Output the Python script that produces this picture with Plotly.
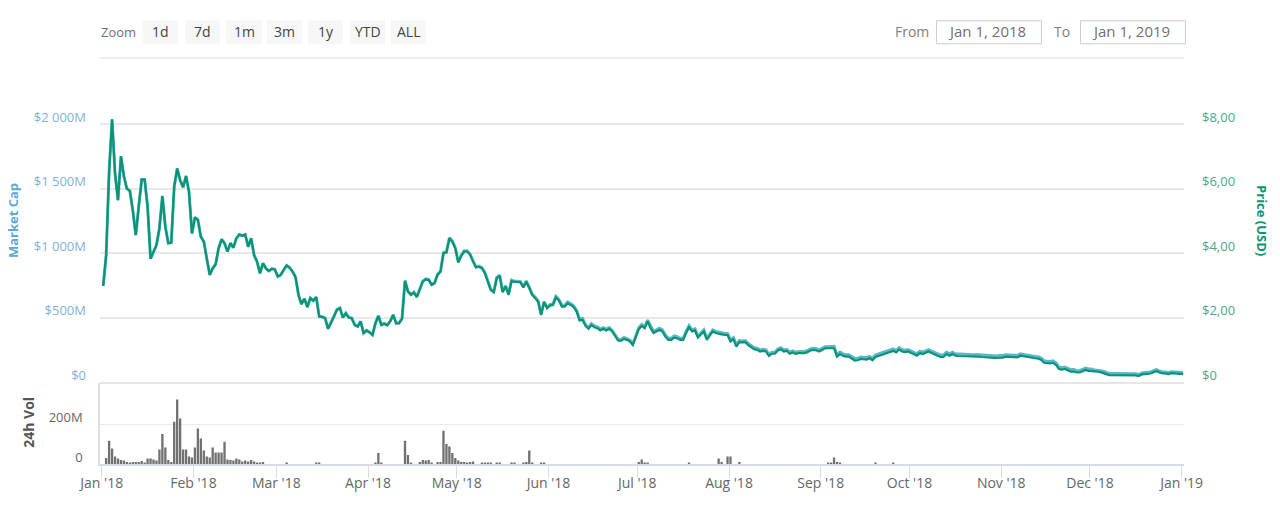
import pandas as pd
import plotly.graph_objects as go

# daily values
market_cap = [
    748, 985, 1630, 2035, 1618, 1410, 1750, 1593, 1500, 1483,
    1333, 1140, 1360, 1570, 1570, 1360, 958, 1013, 1063, 1193,
    1443, 1205, 1078, 1083, 1515, 1655, 1565, 1510, 1598, 1475,
    1153, 1278, 1258, 1128, 1090, 960, 833, 883, 915, 1038,
    1108, 1078, 1013, 1078, 1043, 1115, 1145, 1135, 1145, 1050,
    1115, 985, 935, 845, 923, 883, 863, 880, 875, 820,
    834, 871, 906, 889, 859, 816, 679, 606, 649, 584,
    654, 634, 661, 512, 509, 499, 417, 464, 512, 564,
    577, 504, 537, 504, 499, 447, 434, 474, 382, 404,
    389, 369, 459, 517, 447, 457, 444, 474, 524, 459,
    462, 497, 789, 707, 682, 699, 664, 719, 784, 802,
    797, 759, 772, 837, 862, 1004, 1009, 1119, 1094, 1042,
    934, 984, 1019, 1019, 994, 941, 896, 901, 889, 851,
    786, 721, 704, 811, 831, 704, 749, 684, 791, 784,
    784, 781, 741, 786, 736, 684, 659, 631, 529, 626,
    583, 603, 608, 666, 643, 598, 598, 623, 610, 593,
    558, 490, 495, 448, 425, 455, 438, 430, 413, 425,
    413, 425, 405, 365, 335, 333, 348, 340, 328, 300,
    365, 423, 448, 430, 483, 432, 395, 407, 420, 407,
    367, 342, 342, 360, 355, 342, 342, 395, 440, 407,
    415, 360, 380, 407, 342, 375, 407, 395, 387, 385,
    380, 380, 330, 347, 290, 325, 322, 325, 302, 285,
    270, 265, 252, 257, 252, 217, 235, 235, 260, 270,
    252, 257, 235, 245, 235, 240, 240, 240, 247, 260,
    265, 262, 252, 265, 277, 277, 280, 280, 215, 235,
    222, 215, 215, 202, 185, 187, 197, 195, 192, 202,
    187, 212, 220, 227, 232, 240, 250, 260, 247, 270,
    255, 250, 255, 245, 235, 222, 242, 235, 245, 255,
    242, 230, 222, 212, 212, 235, 222, 235, 222, 220,
    220, 217, 217, 215, 215, 217, 215, 212, 212, 210,
    207, 205, 205, 210, 207, 215, 212, 212, 210, 210,
    222, 217, 212, 210, 207, 202, 200, 190, 167, 162,
    162, 167, 152, 120, 115, 120, 107, 100, 100, 92,
    92, 100, 112, 105, 105, 97, 97, 92, 87, 77,
    70, 70, 70, 72, 67, 67, 67, 67, 67, 67,
    62, 74, 77, 77, 82, 92, 99, 89, 82, 82,
    77, 84, 82, 84, 82, 77,
]
price = [
    2.99, 3.94, 6.52, 8.14, 6.47, 5.64, 7.00, 6.37, 6.00, 5.93,
    5.33, 4.56, 5.44, 6.28, 6.28, 5.44, 3.83, 4.05, 4.25, 4.77,
    5.77, 4.82, 4.31, 4.33, 6.06, 6.62, 6.26, 6.04, 6.39, 5.90,
    4.61, 5.11, 5.03, 4.51, 4.36, 3.84, 3.33, 3.53, 3.66, 4.15,
    4.43, 4.31, 4.05, 4.31, 4.17, 4.46, 4.58, 4.54, 4.58, 4.20,
    4.46, 3.94, 3.74, 3.38, 3.69, 3.53, 3.45, 3.52, 3.50, 3.28,
    3.33, 3.48, 3.62, 3.55, 3.43, 3.26, 2.71, 2.42, 2.59, 2.33,
    2.61, 2.53, 2.64, 2.04, 2.03, 1.99, 1.66, 1.85, 2.04, 2.25,
    2.30, 2.01, 2.14, 2.01, 1.99, 1.78, 1.73, 1.89, 1.52, 1.61,
    1.55, 1.47, 1.83, 2.06, 1.78, 1.82, 1.77, 1.89, 2.09, 1.83,
    1.83, 1.97, 3.14, 2.81, 2.71, 2.78, 2.64, 2.86, 3.12, 3.19,
    3.17, 3.02, 3.07, 3.33, 3.43, 4.00, 4.02, 4.46, 4.36, 4.15,
    3.71, 3.91, 4.05, 4.05, 3.95, 3.74, 3.56, 3.58, 3.53, 3.38,
    3.12, 2.86, 2.79, 3.22, 3.30, 2.79, 2.97, 2.71, 3.14, 3.11,
    3.11, 3.10, 2.94, 3.12, 2.92, 2.71, 2.61, 2.50, 2.09, 2.48,
    2.30, 2.38, 2.40, 2.63, 2.54, 2.35, 2.35, 2.45, 2.40, 2.33,
    2.19, 1.92, 1.94, 1.75, 1.66, 1.78, 1.71, 1.68, 1.61, 1.66,
    1.61, 1.66, 1.58, 1.42, 1.30, 1.29, 1.35, 1.32, 1.27, 1.16,
    1.42, 1.65, 1.75, 1.68, 1.89, 1.68, 1.53, 1.58, 1.63, 1.58,
    1.42, 1.32, 1.32, 1.39, 1.37, 1.32, 1.32, 1.53, 1.71, 1.58,
    1.61, 1.39, 1.47, 1.58, 1.32, 1.45, 1.58, 1.53, 1.50, 1.49,
    1.47, 1.47, 1.27, 1.34, 1.11, 1.25, 1.24, 1.25, 1.16, 1.09,
    1.03, 1.01, 0.96, 0.98, 0.96, 0.82, 0.89, 0.89, 0.99, 1.03,
    0.96, 0.98, 0.89, 0.93, 0.89, 0.91, 0.91, 0.91, 0.94, 0.99,
    1.01, 1.00, 0.96, 1.01, 1.06, 1.06, 1.06, 1.06, 0.80, 0.88,
    0.83, 0.80, 0.80, 0.75, 0.68, 0.69, 0.73, 0.72, 0.71, 0.75,
    0.69, 0.79, 0.82, 0.85, 0.87, 0.90, 0.94, 0.98, 0.93, 1.02,
    0.96, 0.94, 0.96, 0.92, 0.88, 0.83, 0.91, 0.88, 0.92, 0.96,
    0.91, 0.86, 0.83, 0.79, 0.79, 0.88, 0.83, 0.88, 0.83, 0.82,
    0.82, 0.81, 0.81, 0.80, 0.80, 0.81, 0.80, 0.79, 0.79, 0.78,
    0.77, 0.76, 0.76, 0.78, 0.77, 0.80, 0.79, 0.79, 0.78, 0.78,
    0.83, 0.81, 0.79, 0.78, 0.77, 0.75, 0.74, 0.70, 0.61, 0.59,
    0.59, 0.61, 0.55, 0.42, 0.40, 0.42, 0.37, 0.34, 0.34, 0.31,
    0.31, 0.34, 0.39, 0.36, 0.36, 0.34, 0.34, 0.32, 0.30, 0.26,
    0.23, 0.23, 0.23, 0.24, 0.22, 0.22, 0.22, 0.22, 0.22, 0.22,
    0.20, 0.25, 0.26, 0.26, 0.28, 0.32, 0.35, 0.31, 0.28, 0.28,
    0.26, 0.29, 0.28, 0.29, 0.28, 0.26,
]
volume = [
    0, 30, 117, 78, 37, 27, 20, 17, 10, 6,
    10, 10, 10, 15, 5, 28, 28, 22, 17, 72,
    150, 83, 20, 10, 212, 323, 228, 73, 73, 38,
    33, 83, 178, 128, 67, 37, 33, 83, 57, 57,
    57, 112, 23, 20, 17, 27, 23, 13, 17, 13,
    20, 13, 7, 3, 10, 0, 0, 0, 0, 0,
    0, 0, 5, 0, 0, 0, 0, 0, 0, 0,
    0, 0, 5, 5, 0, 0, 0, 0, 0, 0,
    0, 0, 0, 0, 0, 0, 0, 0, 0, 0,
    0, 0, 7, 55, 5, 0, 0, 0, 0, 0,
    0, 0, 117, 45, 5, 0, 0, 10, 20, 17,
    20, 8, 0, 10, 10, 167, 100, 88, 55, 30,
    17, 10, 10, 7, 10, 13, 0, 0, 7, 5,
    7, 7, 0, 8, 8, 0, 0, 0, 5, 5,
    0, 0, 5, 10, 67, 8, 0, 0, 5, 5,
    0, 0, 0, 0, 0, 0, 0, 0, 0, 0,
    0, 0, 0, 0, 0, 0, 0, 0, 0, 0,
    0, 0, 0, 0, 0, 0, 0, 0, 0, 0,
    0, 10, 23, 8, 7, 0, 0, 0, 0, 0,
    0, 0, 0, 0, 0, 0, 0, 0, 5, 0,
    0, 0, 0, 0, 0, 0, 0, 0, 28, 10,
    0, 38, 38, 0, 0, 10, 0, 0, 0, 0,
    0, 0, 0, 0, 0, 0, 0, 0, 0, 0,
    0, 0, 0, 0, 0, 0, 0, 0, 0, 0,
    0, 0, 0, 0, 0, 5, 8, 33, 10, 5,
    0, 0, 0, 0, 0, 0, 0, 0, 0, 0,
    0, 4, 0, 0, 0, 0, 0, 4, 0, 0,
] + [0] * 96

month_ticks = ["2018-01-01", "2018-02-01", "2018-03-01", "2018-04-01", "2018-05-01", "2018-06-01",
               "2018-07-01", "2018-08-01", "2018-09-01", "2018-10-01", "2018-11-01", "2018-12-01", "2019-01-01"]
month_labels = ["Jan '18", "Feb '18", "Mar '18", "Apr '18", "May '18", "Jun '18",
                "Jul '18", "Aug '18", "Sep '18", "Oct '18", "Nov '18", "Dec '18", "Jan '19"]
cap_ticks = [0, 500, 1000, 1500, 2000]
cap_labels = ["$0", "$500M", "$1 000M", "$1 500M", "$2 000M"]
price_ticks = [0, 2, 4, 6, 8]
price_labels = ["$0", "$2,00", "$4,00", "$6,00", "$8,00"]
vol_ticks = [0, 200]
vol_labels = ["0", "200M"]
zoom_buttons = ["1d", "7d", "1m", "3m", "1y", "YTD", "ALL"]

assert len(market_cap) == len(price) == len(volume) == 366, (len(market_cap), len(price), len(volume))
dates = pd.date_range("2018-01-01 12:00", periods=366)

FONT = "Open Sans"
W, H = 1280, 511
L, R, T, B = 100, 1184, 57.7, 464.3

fig = go.Figure()
fig.add_trace(go.Scatter(x=dates, y=market_cap, name="Market Cap", mode="lines", yaxis="y",
                         line=dict(color="#5cb6cf", width=3)))
fig.add_trace(go.Scatter(x=dates, y=price, name="Price (USD)", mode="lines", yaxis="y2",
                         line=dict(color="#0a9572", width=2.2)))
fig.add_trace(go.Bar(x=dates, y=volume, name="24h Vol", yaxis="y3", marker=dict(color="#707070", line_width=0)))

split = (B - 382.7) / (B - T)

fig.update_layout(
    width=W, height=H, autosize=False,
    margin=dict(l=L, r=W - R, t=T, b=H - B, pad=0),
    paper_bgcolor="white", plot_bgcolor="white",
    showlegend=False, bargap=0.22,
    font=dict(family=FONT, size=13, color="#666666"),
    xaxis=dict(
        anchor="y3", type="date", automargin=False,
        range=["2017-12-31 10:00", "2019-01-01 18:40"],
        tickmode="array", tickvals=month_ticks, ticktext=month_labels,
        ticks="outside", ticklen=12, tickcolor="#d6dbe8", tickwidth=1,
        ticklabelstandoff=-7,
        showline=True, linecolor="#d6dbe8", linewidth=1.5, showgrid=False, zeroline=False,
        tickfont=dict(family=FONT, size=14, color="#666666"),
    ),
    yaxis=dict(
        domain=[split, 1], range=[0, 2510], side="left", automargin=False,
        tickmode="array", tickvals=cap_ticks, ticktext=cap_labels,
        gridcolor="#e8e8e8", gridwidth=1.5, zeroline=True, zerolinecolor="#e6e6e6", zerolinewidth=2,
        ticks="", ticklabelshift=-7, ticklabelstandoff=13,
        tickfont=dict(family=FONT, size=13, color="#7fb2d8"),
    ),
    yaxis2=dict(
        domain=[split, 1], range=[0, 10.04], side="right", overlaying="y", anchor="x", automargin=False,
        tickmode="array", tickvals=price_ticks, ticktext=price_labels,
        showgrid=False, zeroline=False, ticks="", ticklabelshift=-7, ticklabelstandoff=17,
        tickfont=dict(family=FONT, size=13, color="#4ea68c"),
    ),
    yaxis3=dict(
        domain=[0, split], range=[0, 408], side="left", anchor="x", automargin=False,
        tickmode="array", tickvals=vol_ticks, ticktext=vol_labels,
        gridcolor="#eaeaea", gridwidth=1, zeroline=False,
        showline=True, linecolor="#e0e0e0", linewidth=1.5,
        ticks="", ticklabelshift=-7, ticklabelstandoff=13,
        tickfont=dict(family=FONT, size=13, color="#666666"),
    ),
)


# pixel helpers for the range selector row above the plot
def px(x):
    return (x - L) / (R - L)


def py(y):
    return (B - y) / (B - T)


shapes = [dict(type="line", xref="paper", yref="paper", x0=0, x1=1, y0=1, y1=1,
               line=dict(color="#e8e8e8", width=1.5))]
annotations = []


def label(text, x, y, color, size=13, anchor="center", angle=0, weight="normal"):
    annotations.append(dict(text=text, x=px(x), y=py(y), xref="paper", yref="paper", showarrow=False,
                            xanchor=anchor, yanchor="middle", textangle=angle,
                            font=dict(family=FONT, size=size, color=color, weight=weight)))


# axis titles
label("Market Cap", 13, 221, "#5aa9d6", angle=-90, weight="bold")
label("Price (USD)", 1262, 220, "#0a9572", angle=90, weight="bold")
label("24h Vol", 29, 423, "#555555", size=14, angle=-90, weight="bold")

label("Zoom", 99, 32, "#707070", anchor="left")
button_x = [(143, 178), (185, 220), (226, 262), (267, 302), (308, 343), (350, 385), (391, 426)]
for text, (x0, x1) in zip(zoom_buttons, button_x):
    shapes.append(dict(type="rect", xref="paper", yref="paper", x0=px(x0), x1=px(x1), y0=py(44), y1=py(20),
                       fillcolor="#f7f7f7", line_width=0))
    label(text, (x0 + x1) / 2, 31, "#444444", size=14)

label("From", 893, 31, "#808080", size=14, anchor="left")
label("To", 1052, 31, "#808080", size=14, anchor="left")
for text, x0, x1 in [("Jan 1, 2018", 936.5, 1041.5), ("Jan 1, 2019", 1080.5, 1185.5)]:
    shapes.append(dict(type="rect", xref="paper", yref="paper", x0=px(x0), x1=px(x1), y0=py(43.5), y1=py(20.5),
                       fillcolor="white", line=dict(color="#cccccc", width=1)))
    label(text, (x0 + x1) / 2 - 2, 31, "#707070", size=15)

fig.update_layout(shapes=shapes, annotations=annotations)

# the page's default body margin would push the chart 8px down and right
fig.write_html("out.html", config={"displayModeBar": False}, post_script="document.body.style.margin='0';")
